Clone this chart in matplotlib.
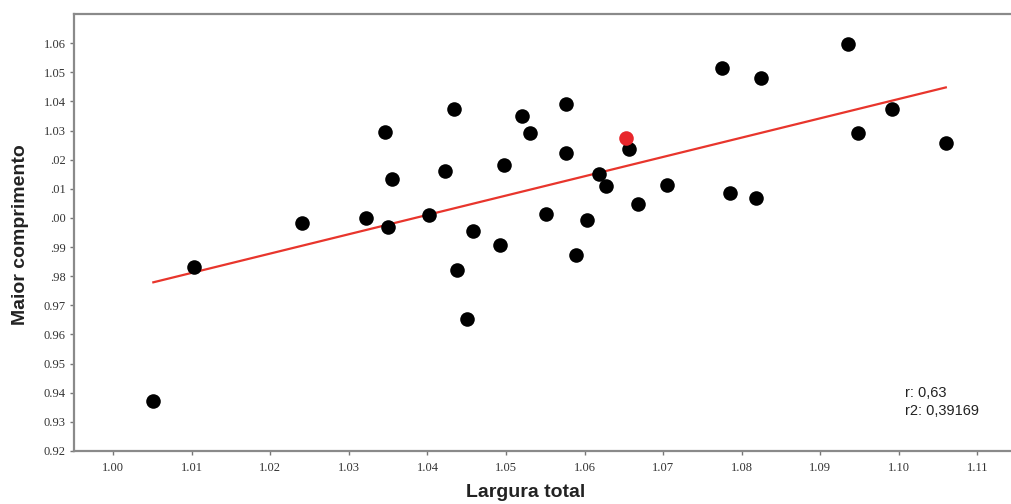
import numpy as np
import matplotlib
matplotlib.use("Agg")
import matplotlib.pyplot as plt

# measured points (Largura total, Maior comprimento)
largura = [1.0050, 1.0103, 1.0240, 1.0322, 1.0346, 1.0350, 1.0355, 1.0402,
           1.0422, 1.0434, 1.0438, 1.0450, 1.0458, 1.0492, 1.0497, 1.0520,
           1.0531, 1.0551, 1.0577, 1.0577, 1.0589, 1.0603, 1.0619, 1.0627,
           1.0657, 1.0668, 1.0705, 1.0775, 1.0785, 1.0818, 1.0825, 1.0936,
           1.0948, 1.0991, 1.1060]
comprimento = [0.9372, 0.9832, 0.9982, 1.0000, 1.0295, 0.9969, 1.0133, 1.0010,
               1.0161, 1.0374, 0.9821, 0.9652, 0.9955, 0.9907, 1.0182, 1.0350,
               1.0293, 1.0013, 1.0391, 1.0223, 0.9874, 0.9992, 1.0152, 1.0110,
               1.0236, 1.0048, 1.0114, 1.0514, 1.0087, 1.0068, 1.0480, 1.0597,
               1.0291, 1.0374, 1.0257]

# highlighted specimen
destaque_x = [1.0653]
destaque_y = [1.0274]

# fitted line endpoints
fit_x = [1.0051, 1.1060]
fit_y = [0.9779, 1.0448]

xticks = [1.00, 1.01, 1.02, 1.03, 1.04, 1.05, 1.06, 1.07, 1.08, 1.09, 1.10, 1.11]
yticks = [0.92, 0.93, 0.94, 0.95, 0.96, 0.97, 0.98, 0.99, 1.00, 1.01, 1.02,
          1.03, 1.04, 1.05, 1.06]
ytick_labels = ["0.92", "0.93", "0.94", "0.95", "0.96", "0.97", ".98", ".99",
                ".00", ".01", ".02", "1.03", "1.04", "1.05", "1.06"]

fig = plt.figure(figsize=(10.11, 5.04), dpi=100)
ax = fig.add_axes([0.0732, 0.1052, 0.9268, 0.867])

ax.plot(fit_x, fit_y, color="#e8352c", lw=1.6, zorder=2)
ax.scatter(largura, comprimento, s=110, color="black", zorder=3, linewidths=0)
ax.scatter(destaque_x, destaque_y, s=110, color="#e8262b", zorder=3, linewidths=0)

ax.set_xlim(0.995, 1.1143)
ax.set_ylim(0.92, 1.07)
ax.set_xticks(xticks)
ax.set_xticklabels([f"{v:.2f}" for v in xticks])
ax.set_yticks(yticks)
ax.set_yticklabels(ytick_labels)

for lab in ax.get_xticklabels() + ax.get_yticklabels():
    lab.set_fontfamily("Liberation Serif")
    lab.set_fontsize(9)
    lab.set_color("#333333")

ax.tick_params(direction="out", length=3, width=1, color="#777777", pad=3)
ax.tick_params(axis="x", pad=5)
ax.spines["right"].set_visible(False)
for side in ["left", "top", "bottom"]:
    ax.spines[side].set_color("#8a8a8a")
    ax.spines[side].set_linewidth(1.6)

fig.text(0.5204, 0.022, "Largura total", ha="center", va="center",
         fontsize=14, fontweight="bold", family="Liberation Sans", color="#222222")
fig.text(0.0198, 0.535, "Maior comprimento", ha="center", va="center",
         rotation=90, fontsize=14, fontweight="bold", family="Liberation Sans",
         color="#222222")

fig.text(0.895, 0.220, "r: 0,63", ha="left", va="center", fontsize=10.5,
         family="Liberation Sans", color="#222222")
fig.text(0.895, 0.184, "r2: 0,39169", ha="left", va="center", fontsize=10.5,
         family="Liberation Sans", color="#222222")

fig.savefig("out.png", dpi=100, facecolor="white")
